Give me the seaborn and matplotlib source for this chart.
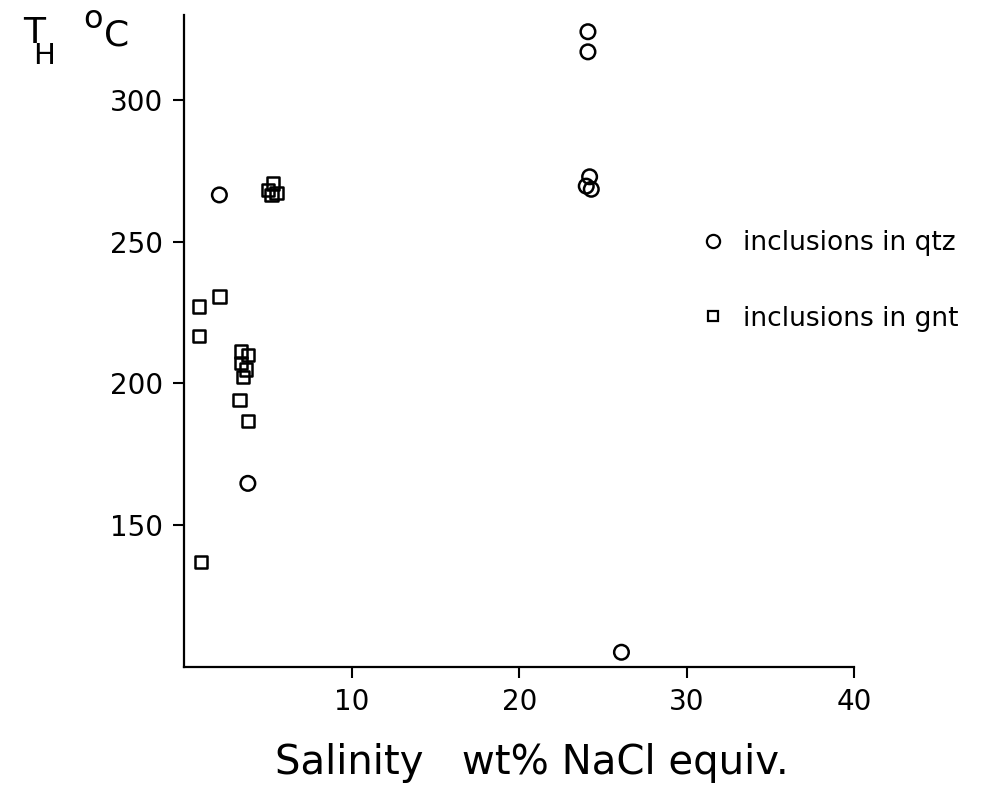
import matplotlib
matplotlib.use("Agg")
import matplotlib.pyplot as plt
import seaborn as sns
import pandas as pd
from matplotlib.lines import Line2D

# homogenisation temperatures vs salinity
qtz_salinity = [24.1, 24.1, 24.2, 24.0, 24.3, 2.1, 3.8, 26.1]
qtz_temp = [324.1, 317.0, 272.9, 269.6, 268.5, 266.5, 164.7, 105.1]

gnt_salinity = [5.3, 5.0, 5.5, 5.2, 2.1, 0.9, 0.9, 3.4, 3.8, 3.4, 3.7, 3.5, 3.3, 3.8, 1.0]
gnt_temp = [270.6, 268.2, 267.1, 266.5, 230.6, 227.1, 216.8, 211.2, 210.0, 207.1,
            204.9, 202.3, 194.1, 186.7, 137.0]

x_ticks = [10, 20, 30, 40]
y_ticks = [150, 200, 250, 300]
legend_labels = ["inclusions in qtz", "inclusions in gnt"]

qtz = pd.DataFrame({"salinity": qtz_salinity, "temp": qtz_temp})
gnt = pd.DataFrame({"salinity": gnt_salinity, "temp": gnt_temp})

sns.set_theme(style="ticks")
plt.rcParams["font.family"] = ["DejaVu Sans"]
plt.rcParams["text.color"] = "black"

W, H = 991, 788
fig = plt.figure(figsize=(W / 100, H / 100), dpi=100)
ax = fig.add_axes([184.2 / W, 1 - 666.7 / H, 670.1 / W, 651.7 / H])


def px(x, y):
    return x / W, 1 - y / H


sns.scatterplot(data=qtz, x="salinity", y="temp", marker="o", s=110,
                facecolors="none", edgecolor="black", linewidth=1.8, ax=ax)
sns.scatterplot(data=gnt, x="salinity", y="temp", marker="s", s=80,
                facecolors="none", edgecolor="black", linewidth=1.8, ax=ax)

ax.set_xlim(0, 40)
ax.set_ylim(100, 330)
ax.set_xticks(x_ticks)
ax.set_yticks(y_ticks)
sns.despine(ax=ax)
for s in ["left", "bottom"]:
    ax.spines[s].set_linewidth(1.6)
    ax.spines[s].set_color("black")
ax.tick_params(direction="out", length=8, width=1.5, labelsize=20,
               colors="black", pad=7)

ax.set_ylabel("")
ax.set_xlabel("Salinity   wt% NaCl equiv.", fontsize=29, color="black")
ax.xaxis.label.set_va("baseline")
ax.xaxis.set_label_coords((532 - 184.2) / 670.1, (666.7 - 774) / 651.7)

# y axis title T_H oC
fig.text(*px(23, 43), "T", fontsize=26, va="baseline", ha="left")
fig.text(*px(33, 64), "H", fontsize=21, va="baseline", ha="left")
fig.text(*px(83, 28), "o", fontsize=23, va="baseline", ha="left")
fig.text(*px(104, 45), "C", fontsize=26, va="baseline", ha="left")

handles = [
    Line2D([], [], marker="o", ls="", mfc="none", mec="black", ms=9.5, mew=1.6),
    Line2D([], [], marker="s", ls="", mfc="none", mec="black", ms=6.5, mew=1.6),
]
fig.legend(handles, legend_labels, loc="center left",
           bbox_to_anchor=px(699.5, 281), frameon=False, fontsize=19,
           handlelength=1.0, handletextpad=0.65, labelspacing=1.86,
           borderpad=0, borderaxespad=0)

fig.savefig("out.png", dpi=100)
